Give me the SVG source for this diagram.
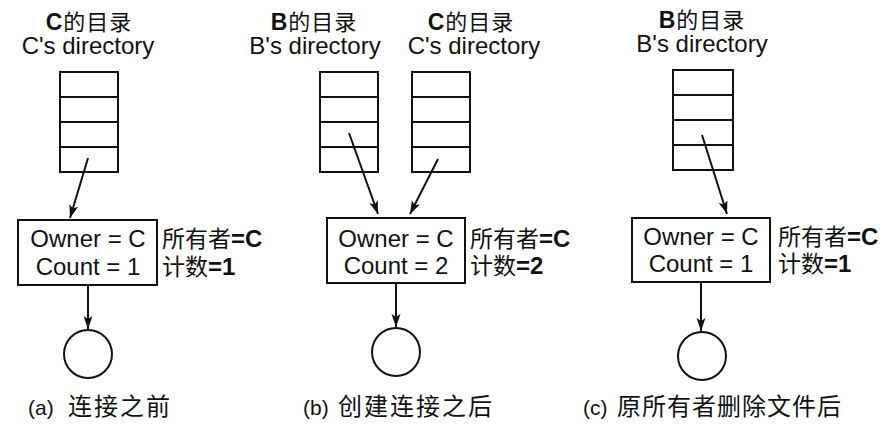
<svg xmlns="http://www.w3.org/2000/svg" width="895" height="424" viewBox="0 0 895 424">
<style>
.en{font-family:"Liberation Sans",Arial,sans-serif;font-size:24px;fill:#111}
.cn{font-family:"Noto Sans CJK SC","Liberation Sans",sans-serif;font-size:23px;fill:#111}
.tt{font-family:"Noto Sans CJK SC","Liberation Sans",sans-serif;font-size:22px;fill:#111}
.b{font-weight:bold;font-family:"Liberation Sans",Arial,sans-serif}
.cap{font-family:"Noto Sans CJK SC",sans-serif;font-size:24px;fill:#111}
.par{font-family:"Liberation Sans",Arial,sans-serif;font-size:21px;fill:#111}
.box{fill:#fff;stroke:#111;stroke-width:2}
.line{stroke:#111;stroke-width:2;fill:none}
.con{stroke:#111;stroke-width:2;fill:none;marker-end:url(#ah)}
</style>
<defs>
<marker id="ah" markerUnits="userSpaceOnUse" markerWidth="14" markerHeight="10" refX="13" refY="4.5" orient="auto">
<path d="M0,0 L13,4.5 L0,9 L3,4.5 z" fill="#111"/>
</marker>
</defs>
<rect width="895" height="424" fill="#fff"/>

<!-- Panel (a) -->
<g id="titleA">
<text x="89" y="30" text-anchor="middle" class="tt" letter-spacing="1"><tspan class="b" font-size="23">C</tspan>的目录</text>
<text x="88" y="54" text-anchor="middle" class="en">C's directory</text>
</g>
<g id="dirC_a">
<rect x="60" y="72" width="58" height="100" class="box"/>
<path d="M60,97 H118 M60,122 H118 M60,147 H118" class="line"/>
</g>
<g id="inode_a">
<rect x="18" y="220" width="139" height="65" class="box"/>
<text x="88" y="247" text-anchor="middle" class="en">Owner = C</text>
<text x="88" y="275" text-anchor="middle" class="en">Count = 1</text>
<text x="162" y="247" class="cn">所有者<tspan class="b" font-size="24">=C</tspan></text>
<text x="162" y="275" class="cn">计数<tspan class="b" font-size="24">=1</tspan></text>
</g>
<g id="file_a">
<circle cx="88" cy="354" r="24" class="box"/>
</g>
<g id="capA">
<text x="28" y="415" class="par">(a)</text>
<text x="68" y="415" class="cap" letter-spacing="2">连接之前</text>
</g>

<!-- Panel (b) -->
<g id="titleB_b">
<text x="314" y="30" text-anchor="middle" class="tt" letter-spacing="1"><tspan class="b" font-size="23">B</tspan>的目录</text>
<text x="315" y="54" text-anchor="middle" class="en">B's directory</text>
</g>
<g id="titleC_b">
<text x="471" y="30" text-anchor="middle" class="tt" letter-spacing="1"><tspan class="b" font-size="23">C</tspan>的目录</text>
<text x="474" y="54" text-anchor="middle" class="en">C's directory</text>
</g>
<g id="dirB_b">
<rect x="320" y="72" width="58" height="100" class="box"/>
<path d="M320,97 H378 M320,122 H378 M320,147 H378" class="line"/>
</g>
<g id="dirC_b">
<rect x="412" y="72" width="58" height="100" class="box"/>
<path d="M412,97 H470 M412,122 H470 M412,147 H470" class="line"/>
</g>
<g id="inode_b">
<rect x="327" y="218" width="138" height="65" class="box"/>
<text x="396" y="247" text-anchor="middle" class="en">Owner = C</text>
<text x="396" y="274" text-anchor="middle" class="en">Count = 2</text>
<text x="470" y="247" class="cn">所有者<tspan class="b" font-size="24">=C</tspan></text>
<text x="470" y="274" class="cn">计数<tspan class="b" font-size="24">=2</tspan></text>
</g>
<g id="file_b">
<circle cx="396" cy="352" r="24" class="box"/>
</g>
<g id="capB">
<text x="303" y="415" class="par">(b)</text>
<text x="338" y="415" class="cap" letter-spacing="2">创建连接之后</text>
</g>

<!-- Panel (c) -->
<g id="titleB_c">
<text x="702" y="28" text-anchor="middle" class="tt" letter-spacing="1"><tspan class="b" font-size="23">B</tspan>的目录</text>
<text x="702" y="52" text-anchor="middle" class="en">B's directory</text>
</g>
<g id="dirB_c">
<rect x="673" y="70" width="60" height="100" class="box"/>
<path d="M673,95 H733 M673,120 H733 M673,145 H733" class="line"/>
</g>
<g id="inode_c">
<rect x="632" y="218" width="138" height="64" class="box"/>
<text x="701" y="245" text-anchor="middle" class="en">Owner = C</text>
<text x="701" y="272" text-anchor="middle" class="en">Count = 1</text>
<text x="778" y="245" class="cn">所有者<tspan class="b" font-size="24">=C</tspan></text>
<text x="778" y="272" class="cn">计数<tspan class="b" font-size="24">=1</tspan></text>
</g>
<g id="file_c">
<circle cx="702" cy="356" r="24" class="box"/>
</g>
<g id="capC">
<text x="583" y="415" class="par">(c)</text>
<text x="617" y="415" class="cap" letter-spacing="1">原所有者删除文件后</text>
</g>

<g id="connectors">
<line x1="88" y1="158" x2="70" y2="218" class="con"/>
<line x1="88" y1="285" x2="88" y2="329" class="con"/>
<line x1="349" y1="133" x2="378" y2="214" class="con"/>
<line x1="438" y1="159" x2="410" y2="214" class="con"/>
<line x1="396" y1="283" x2="396" y2="327" class="con"/>
<line x1="702" y1="135" x2="727" y2="214" class="con"/>
<line x1="701" y1="282" x2="701" y2="331" class="con"/>
</g>
</svg>
